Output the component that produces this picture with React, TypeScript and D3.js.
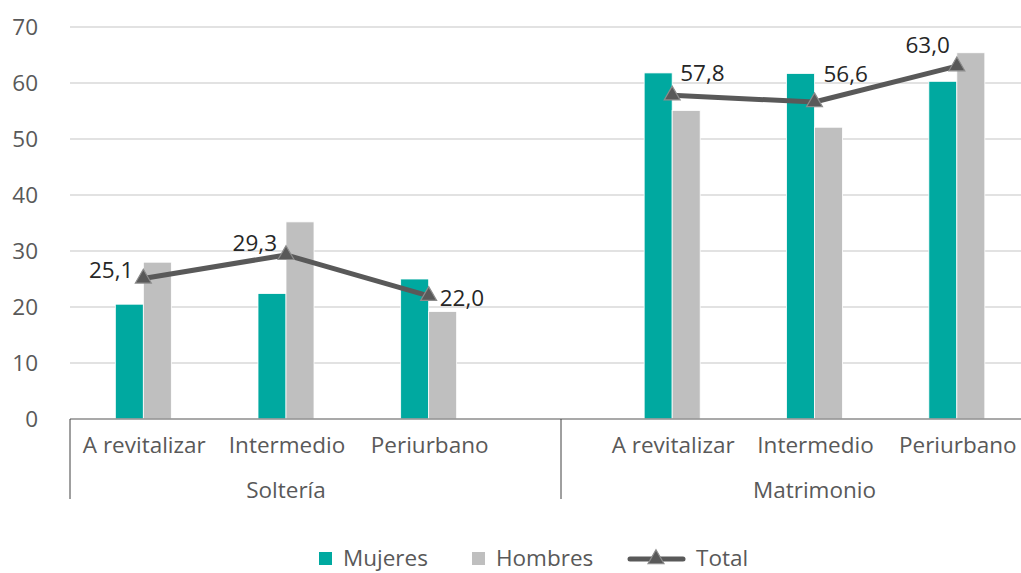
import React, { useEffect, useRef } from 'react';
import * as d3 from 'd3';

const groups = ['Soltería', 'Matrimonio'];
const zones = ['A revitalizar', 'Intermedio', 'Periurbano'];
const mujeres = [20.5, 22.4, 25.0, 61.8, 61.7, 60.3];
const hombres = [28.0, 35.2, 19.2, 55.1, 52.1, 65.4];
const total = [25.1, 29.3, 22.0, 57.8, 56.6, 63.0];
const yTicks = [0, 10, 20, 30, 40, 50, 60, 70];
const seriesNames = ['Mujeres', 'Hombres', 'Total'];

// where each total label sits relative to its point
const labelPlace = [
  { anchor: 'end', dx: -10, dy: -8 },
  { anchor: 'end', dx: -9, dy: -12 },
  { anchor: 'start', dx: 11, dy: 2 },
  { anchor: 'start', dx: 8, dy: -22 },
  { anchor: 'start', dx: 9, dy: -28 },
  { anchor: 'end', dx: -7, dy: -21 },
];

const W = 1021;
const H = 573;
const FONT = "'Open Sans', 'Noto Sans', sans-serif";
const FS = 22.5;
const TEAL = '#00A9A0';
const GREY = '#BFBFBF';
const LINE = '#595959';

const App = () => {
  const svgRef = useRef<SVGSVGElement | null>(null);

  useEffect(() => {
    const svg = d3.select(svgRef.current);
    svg.selectAll('*').remove();

    const left = 70;
    const base = 419;
    const y = d3.scaleLinear().domain([0, 70]).range([base, 27]);

    // each group gets its own band of three zones
    const groupRange: [number, number][] = [[72, 500], [601, 1028]];
    const sep = 561;
    const inner = groupRange.map(r => d3.scaleBand<string>().domain(zones).range(r).paddingInner(0).paddingOuter(0));
    const cx = (i: number) => {
      const g = Math.floor(i / 3);
      const s = inner[g];
      return (s(zones[i % 3]) as number) + s.bandwidth() / 2;
    };
    const barW = 28;

    // grid
    svg.append('g')
      .selectAll('line')
      .data(yTicks.slice(1))
      .enter()
      .append('line')
      .attr('x1', left).attr('x2', W)
      .attr('y1', d => y(d)).attr('y2', d => y(d))
      .attr('stroke', '#D9D9D9').attr('stroke-width', 1.3);

    svg.append('g')
      .selectAll('text')
      .data(yTicks)
      .enter()
      .append('text')
      .attr('x', 38).attr('y', d => y(d) + 8)
      .attr('text-anchor', 'end')
      .attr('font-family', FONT).attr('font-size', FS)
      .attr('fill', LINE)
      .text(d => d);

    const idx = d3.range(mujeres.length);

    // bars
    svg.append('g')
      .selectAll('rect')
      .data(idx)
      .enter()
      .append('rect')
      .attr('x', i => cx(i) - barW)
      .attr('y', i => y(mujeres[i]))
      .attr('width', barW)
      .attr('height', i => base - y(mujeres[i]))
      .attr('fill', TEAL)
      .attr('stroke', '#ffffff').attr('stroke-width', 0.8);

    svg.append('g')
      .selectAll('rect')
      .data(idx)
      .enter()
      .append('rect')
      .attr('x', i => cx(i))
      .attr('y', i => y(hombres[i]))
      .attr('width', barW)
      .attr('height', i => base - y(hombres[i]))
      .attr('fill', GREY)
      .attr('stroke', '#ffffff').attr('stroke-width', 0.8);

    // axis lines
    svg.append('line')
      .attr('x1', left).attr('x2', W).attr('y1', base).attr('y2', base)
      .attr('stroke', '#8C8C8C').attr('stroke-width', 1.3);
    [left, sep].forEach(x => {
      svg.append('line')
        .attr('x1', x).attr('x2', x).attr('y1', base).attr('y2', 499)
        .attr('stroke', '#404040').attr('stroke-width', 1);
    });

    svg.append('g')
      .selectAll('text')
      .data(idx)
      .enter()
      .append('text')
      .attr('x', i => cx(i) + 1)
      .attr('y', 453)
      .attr('text-anchor', 'middle')
      .attr('font-family', FONT).attr('font-size', FS)
      .attr('fill', LINE)
      .text(i => zones[i % 3]);

    svg.append('g')
      .selectAll('text')
      .data(groups)
      .enter()
      .append('text')
      .attr('x', (d, g) => (cx(g * 3) + cx(g * 3 + 2)) / 2)
      .attr('y', 498)
      .attr('text-anchor', 'middle')
      .attr('font-family', FONT).attr('font-size', FS)
      .attr('fill', LINE)
      .text(d => d);

    // total line, one segment per group
    const line = d3.line<number>().x(i => cx(i)).y(i => y(total[i]));
    [0, 1].forEach(g => {
      svg.append('path')
        .attr('d', line(d3.range(g * 3, g * 3 + 3)))
        .attr('fill', 'none')
        .attr('stroke', LINE)
        .attr('stroke-width', 5)
        .attr('stroke-linejoin', 'round');
    });

    const tri = d3.symbol().type(d3.symbolTriangle).size(110);
    svg.append('g')
      .selectAll('path')
      .data(idx)
      .enter()
      .append('path')
      .attr('d', tri())
      .attr('transform', i => `translate(${cx(i)},${y(total[i])})`)
      .attr('fill', LINE)
      .attr('stroke', '#8C8C8C').attr('stroke-width', 1.2);

    svg.append('g')
      .selectAll('text')
      .data(idx)
      .enter()
      .append('text')
      .attr('x', i => cx(i) + labelPlace[i].dx)
      .attr('y', i => y(total[i]) + labelPlace[i].dy + 8)
      .attr('text-anchor', i => labelPlace[i].anchor)
      .attr('font-family', FONT).attr('font-size', FS)
      .attr('fill', '#262626')
      .text(i => d3.format('.1f')(total[i]).replace('.', ','));

    // legend
    const lg = svg.append('g').attr('font-family', FONT).attr('font-size', FS).attr('fill', LINE);
    const legX = [319, 472, 630];
    const ly = 559;
    [TEAL, GREY].forEach((c, k) => {
      lg.append('rect').attr('x', legX[k]).attr('y', ly - 7).attr('width', 13).attr('height', 13).attr('fill', c);
      lg.append('text').attr('x', legX[k] + 24).attr('y', ly + 7).text(seriesNames[k]);
    });
    lg.append('line').attr('x1', legX[2]).attr('x2', legX[2] + 53).attr('y1', ly).attr('y2', ly)
      .attr('stroke', LINE).attr('stroke-width', 5).attr('stroke-linecap', 'round');
    lg.append('path').attr('d', tri()).attr('transform', `translate(${legX[2] + 26},${ly})`)
      .attr('fill', LINE).attr('stroke', '#8C8C8C').attr('stroke-width', 1.2);
    lg.append('text').attr('x', legX[2] + 66).attr('y', ly + 7).text(seriesNames[2]);
  }, []);

  return (
    <svg ref={svgRef} width={W} height={H} style={{ position: 'absolute', left: 0, top: 0, background: '#fff' }} />
  );
};

export default App;
